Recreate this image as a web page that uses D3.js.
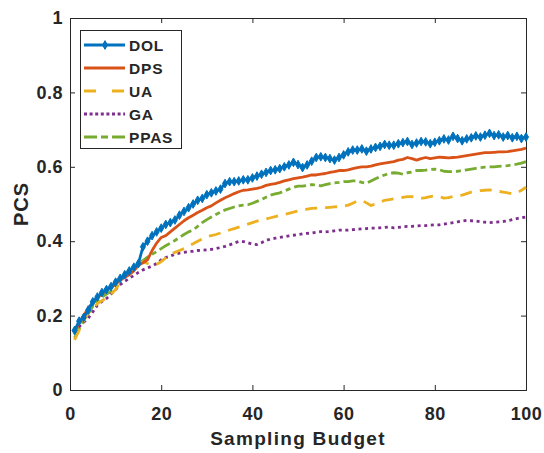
<!DOCTYPE html>
<html><head><meta charset="utf-8">
<script src="https://cdn.jsdelivr.net/npm/d3@7"></script>
<style>
html,body{margin:0;padding:0;background:#fff;}
svg text{font-family:Arial,"Liberation Sans",Helvetica,sans-serif;font-weight:bold;fill:#262626;}
</style></head>
<body><svg id="c" width="544" height="453"></svg>
<script>
const xTicks = [0,20,40,60,80,100];
const yTicks = [0,0.2,0.4,0.6,0.8,1];
const yTickLabels = ["0","0.2","0.4","0.6","0.8","1"];
const seriesNames = ["DOL","DPS","UA","GA","PPAS"];
const seriesColors = ["#0072BD","#D95319","#EDB120","#7E2F8E","#77AC30"];
const budget = d3.range(1,101);

const DOL = [0.16,0.185,0.195,0.215,0.237,0.25,0.262,0.27,0.278,0.29,0.30,0.31,0.32,0.33,0.34,0.385,0.40,0.415,0.425,0.435,
0.445,0.45,0.457,0.47,0.48,0.49,0.50,0.51,0.515,0.525,0.53,0.535,0.54,0.555,0.56,0.56,0.562,0.565,0.565,0.57,
0.575,0.58,0.585,0.59,0.592,0.595,0.60,0.605,0.612,0.606,0.598,0.605,0.615,0.625,0.627,0.625,0.622,0.618,0.625,0.632,
0.64,0.645,0.645,0.648,0.642,0.648,0.652,0.655,0.66,0.658,0.658,0.662,0.665,0.668,0.66,0.664,0.668,0.667,0.662,0.666,
0.67,0.675,0.672,0.682,0.676,0.67,0.675,0.678,0.683,0.68,0.685,0.69,0.684,0.686,0.68,0.684,0.678,0.682,0.676,0.68];

const DPS = [0.155,0.18,0.2,0.22,0.235,0.248,0.258,0.268,0.275,0.285,0.295,0.303,0.31,0.32,0.335,0.342,0.35,0.375,0.395,0.41,
0.415,0.425,0.435,0.445,0.455,0.463,0.47,0.477,0.483,0.49,0.495,0.503,0.51,0.517,0.522,0.528,0.533,0.537,0.538,0.54,
0.542,0.545,0.55,0.553,0.555,0.558,0.562,0.565,0.568,0.57,0.572,0.575,0.578,0.578,0.58,0.582,0.585,0.587,0.59,0.59,
0.592,0.595,0.598,0.6,0.6,0.602,0.605,0.608,0.61,0.612,0.614,0.618,0.62,0.625,0.622,0.618,0.622,0.625,0.622,0.624,
0.626,0.625,0.624,0.625,0.626,0.628,0.63,0.632,0.634,0.636,0.638,0.638,0.639,0.64,0.64,0.641,0.643,0.645,0.647,0.65];

const UA = [0.135,0.16,0.185,0.207,0.22,0.232,0.24,0.248,0.258,0.27,0.29,0.305,0.318,0.328,0.338,0.345,0.34,0.336,0.338,0.345,
0.355,0.365,0.37,0.375,0.38,0.387,0.393,0.4,0.406,0.412,0.415,0.418,0.422,0.426,0.43,0.434,0.438,0.442,0.446,0.45,
0.454,0.458,0.46,0.463,0.466,0.469,0.472,0.475,0.478,0.481,0.484,0.486,0.488,0.489,0.49,0.49,0.491,0.492,0.493,0.494,
0.497,0.502,0.508,0.51,0.503,0.496,0.5,0.505,0.51,0.512,0.514,0.516,0.518,0.52,0.52,0.518,0.515,0.517,0.52,0.522,
0.52,0.516,0.517,0.52,0.522,0.524,0.528,0.532,0.534,0.536,0.537,0.538,0.537,0.534,0.532,0.53,0.527,0.53,0.537,0.545];

const GA = [0.155,0.17,0.182,0.193,0.21,0.228,0.238,0.246,0.258,0.27,0.283,0.292,0.3,0.308,0.316,0.323,0.328,0.333,0.34,0.35,
0.356,0.36,0.365,0.368,0.37,0.372,0.373,0.375,0.376,0.377,0.378,0.38,0.383,0.386,0.39,0.395,0.399,0.399,0.396,0.392,
0.391,0.396,0.402,0.406,0.408,0.41,0.412,0.414,0.416,0.418,0.42,0.421,0.422,0.424,0.426,0.425,0.426,0.428,0.43,0.43,
0.43,0.431,0.432,0.433,0.434,0.435,0.435,0.436,0.437,0.438,0.436,0.437,0.439,0.44,0.44,0.441,0.442,0.442,0.443,0.444,
0.444,0.446,0.448,0.45,0.452,0.454,0.456,0.455,0.454,0.452,0.451,0.45,0.451,0.452,0.453,0.455,0.458,0.461,0.463,0.465];

const PPAS = [0.14,0.165,0.185,0.205,0.225,0.24,0.25,0.258,0.265,0.28,0.298,0.31,0.32,0.33,0.34,0.348,0.357,0.365,0.372,0.38,
0.388,0.395,0.402,0.41,0.418,0.425,0.43,0.44,0.45,0.458,0.465,0.472,0.478,0.484,0.488,0.492,0.495,0.497,0.498,0.502,
0.507,0.512,0.518,0.524,0.527,0.53,0.535,0.54,0.545,0.548,0.548,0.55,0.552,0.551,0.549,0.552,0.555,0.557,0.558,0.56,
0.56,0.562,0.562,0.558,0.556,0.562,0.568,0.574,0.578,0.582,0.584,0.583,0.58,0.584,0.586,0.59,0.59,0.591,0.593,0.594,
0.592,0.588,0.587,0.587,0.588,0.59,0.592,0.594,0.596,0.598,0.599,0.6,0.6,0.601,0.602,0.603,0.605,0.607,0.61,0.614];

const seriesData = [DOL,DPS,UA,GA,PPAS];
const dashes = [null,null,"12,8","3,3.6","12,4,5,4"];
const legendDashes = [null,null,"12,16","3,2.6","13,4,7,4"];

const svg = d3.select("#c");
const L=70, R=526, T=18, B=390;
const x = d3.scaleLinear().domain([0,100]).range([L,R]);
const y = d3.scaleLinear().domain([0,1]).range([B,T]);
const axCol = "#262626";

svg.append("rect").attr("x",L).attr("y",T).attr("width",R-L).attr("height",B-T).attr("fill","#fff");

// axes
const gx = svg.append("g").attr("transform",`translate(0,${B})`)
  .call(d3.axisBottom(x).tickValues(xTicks).tickSize(-5).tickPadding(17).tickFormat(d3.format("d")));
const gy = svg.append("g").attr("transform",`translate(${L},0)`)
  .call(d3.axisLeft(y).tickValues(yTicks).tickSize(-5).tickPadding(7).tickFormat((d,i)=>yTickLabels[i]));
const gxt = svg.append("g").attr("transform",`translate(0,${T})`)
  .call(d3.axisTop(x).tickValues(xTicks).tickSize(-5).tickFormat(""));
const gyr = svg.append("g").attr("transform",`translate(${R},0)`)
  .call(d3.axisRight(y).tickValues(yTicks).tickSize(-5).tickFormat(""));
[gx,gy,gxt,gyr].forEach(g=>{
  g.select(".domain").attr("stroke",axCol).attr("stroke-width",1);
  g.selectAll(".tick line").attr("stroke",axCol);
  g.selectAll("text").attr("font-size",18).attr("letter-spacing","0.5px").attr("fill",axCol).attr("font-weight","bold");
});

const line = d3.line().x((d,i)=>x(budget[i])).y(d=>y(d));
const plot = svg.append("g");
for (let k=seriesData.length-1;k>=0;k--){
  plot.append("path").datum(seriesData[k])
    .attr("fill","none").attr("stroke",seriesColors[k])
    .attr("stroke-width",2.8)
    .attr("stroke-dasharray",dashes[k])
    .attr("stroke-linejoin","round")
    .attr("d",line);
}
const sym = d3.symbol().type(d3.symbolDiamond).size(22);
plot.selectAll(".mk").data(DOL).join("path")
  .attr("class","mk")
  .attr("transform",(d,i)=>`translate(${x(budget[i])},${y(d)})`)
  .attr("d",sym).attr("fill",seriesColors[0]).attr("stroke",seriesColors[0]).attr("stroke-width",1);

// axis titles
svg.append("text").attr("x",(L+R)/2).attr("y",445).attr("text-anchor","middle")
  .attr("font-size",19).attr("letter-spacing","1.3px").text("Sampling Budget");
svg.append("text").attr("transform",`translate(28,${(T+B)/2}) rotate(-90)`).attr("text-anchor","middle")
  .attr("font-size",20).attr("letter-spacing","1px").text("PCS");

// legend
const lg = svg.append("g");
lg.append("rect").attr("x",80.5).attr("y",30.5).attr("width",101).attr("height",118)
  .attr("fill","#fff").attr("stroke",axCol).attr("stroke-width",1);
const legY = [45,68,91,114,137];
seriesNames.forEach((n,k)=>{
  lg.append("line").attr("x1",84).attr("x2",125).attr("y1",legY[k]).attr("y2",legY[k])
    .attr("stroke",seriesColors[k]).attr("stroke-width",2.8).attr("stroke-dasharray",legendDashes[k]);
  if(k===0){
    lg.append("path").attr("transform",`translate(105,${legY[k]})`).attr("d",sym)
      .attr("fill",seriesColors[0]).attr("stroke",seriesColors[0]);
  }
  lg.append("text").attr("x",129).attr("y",legY[k]+5.5).attr("font-size",15.5).attr("letter-spacing","0.8px").text(n);
});
</script></body></html>
